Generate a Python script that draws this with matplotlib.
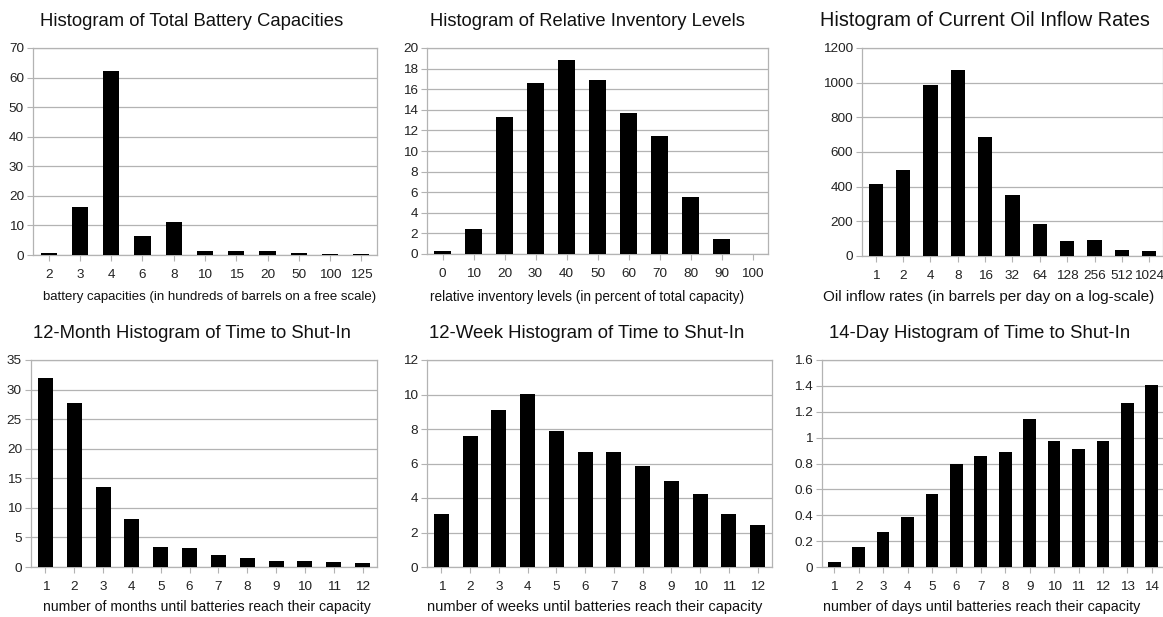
import numpy as np
import matplotlib
matplotlib.use("Agg")
import matplotlib.pyplot as plt

plt.rcParams['font.family'] = ['Liberation Sans', 'DejaVu Sans']

# --- data ---
cap_labels = ["2", "3", "4", "6", "8", "10", "15", "20", "50", "100", "125"]
cap_values = [0.7, 16.4, 62.3, 6.5, 11.3, 1.3, 1.5, 1.5, 0.7, 0.4, 0.4]

inv_labels = ["0", "10", "20", "30", "40", "50", "60", "70", "80", "90", "100"]
inv_values = [0.25, 2.4, 13.3, 16.65, 18.8, 16.9, 13.7, 11.5, 5.55, 1.45, 0.0]

flow_labels = ["1", "2", "4", "8", "16", "32", "64", "128", "256", "512", "1024"]
flow_values = [413, 498, 988, 1074, 685, 350, 184, 89, 94, 36, 31]

month_labels = [str(i) for i in range(1, 13)]
month_values = [32.0, 27.7, 13.6, 8.1, 3.4, 3.2, 2.1, 1.6, 1.05, 1.05, 0.9, 0.75]

week_labels = [str(i) for i in range(1, 13)]
week_values = [3.07, 7.58, 9.08, 10.02, 7.9, 6.65, 6.65, 5.87, 5.0, 4.22, 3.1, 2.43]

day_labels = [str(i) for i in range(1, 15)]
day_values = [0.036, 0.152, 0.268, 0.385, 0.565, 0.797, 0.855, 0.887, 1.145,
              0.972, 0.912, 0.972, 1.266, 1.408]

W, H = 1163, 617
GRID = "#b3b3b3"


def px_rect(l, r, t, b):
    return [l / W, 1 - b / H, (r - l) / W, (b - t) / H]


def put_text(fig, x, y, s, size):
    # x, y in pixels from the top-left corner
    fig.text(x / W, 1 - y / H, s, fontsize=size, ha="center", va="center",
             color="#111111")


def panel(fig, rect, labels, values, ymax, ystep):
    ax = fig.add_axes(rect)
    x = np.arange(len(labels))
    ax.bar(x, values, width=0.52, color="black", zorder=3)
    ax.set_xlim(-0.5, len(labels) - 0.5)
    ax.set_ylim(0, ymax)
    yt = np.arange(0, ymax + ystep / 2, ystep)
    ax.set_yticks(yt)
    ax.set_yticklabels(["{:g}".format(round(v, 2)) for v in yt])
    ax.set_xticks(x)
    ax.set_xticklabels(labels)
    ax.yaxis.grid(True, color=GRID, linewidth=0.9, zorder=0)
    ax.set_axisbelow(True)
    for s in ax.spines.values():
        s.set_color(GRID)
        s.set_linewidth(0.9)
    ax.tick_params(axis="both", direction="out", length=4.3, width=0.8, color=GRID,
                   labelsize=9.7, labelcolor="#222222")
    ax.tick_params(axis="x", pad=6)
    ax.tick_params(axis="y", pad=2.2)
    return ax


fig = plt.figure(figsize=(W / 100, H / 100), dpi=100)

# top row
panel(fig, px_rect(33, 377, 48, 255), cap_labels, cap_values, 70, 10)
put_text(fig, 192, 21, "Histogram of Total Battery Capacities", 13.3)
put_text(fig, 210, 297, "battery capacities (in hundreds of barrels on a free scale)", 9.5)

panel(fig, px_rect(427, 768, 48, 254), inv_labels, inv_values, 20, 2)
put_text(fig, 587, 21, "Histogram of Relative Inventory Levels", 13.2)
put_text(fig, 587, 297, "relative inventory levels (in percent of total capacity)", 9.8)

panel(fig, px_rect(862, 1163, 48, 256), flow_labels, flow_values, 1200, 200)
put_text(fig, 985, 21, "Histogram of Current Oil Inflow Rates", 14.3)
put_text(fig, 989, 297, "Oil inflow rates (in barrels per day on a log-scale)", 11)

# bottom row
panel(fig, px_rect(31, 377, 360, 567), month_labels, month_values, 35, 5)
put_text(fig, 192, 333, "12-Month Histogram of Time to Shut-In", 13.3)
put_text(fig, 207, 607, "number of months until batteries reach their capacity", 10.1)

panel(fig, px_rect(427, 772, 360, 567), week_labels, week_values, 12, 2)
put_text(fig, 587, 333, "12-Week Histogram of Time to Shut-In", 13.4)
put_text(fig, 595, 607, "number of weeks until batteries reach their capacity", 10.5)

panel(fig, px_rect(822, 1164, 360, 567), day_labels, day_values, 1.6, 0.2)
put_text(fig, 980, 333, "14-Day Histogram of Time to Shut-In", 13.4)
put_text(fig, 982, 607, "number of days until batteries reach their capacity", 10.3)

fig.savefig("out.png", dpi=100)
